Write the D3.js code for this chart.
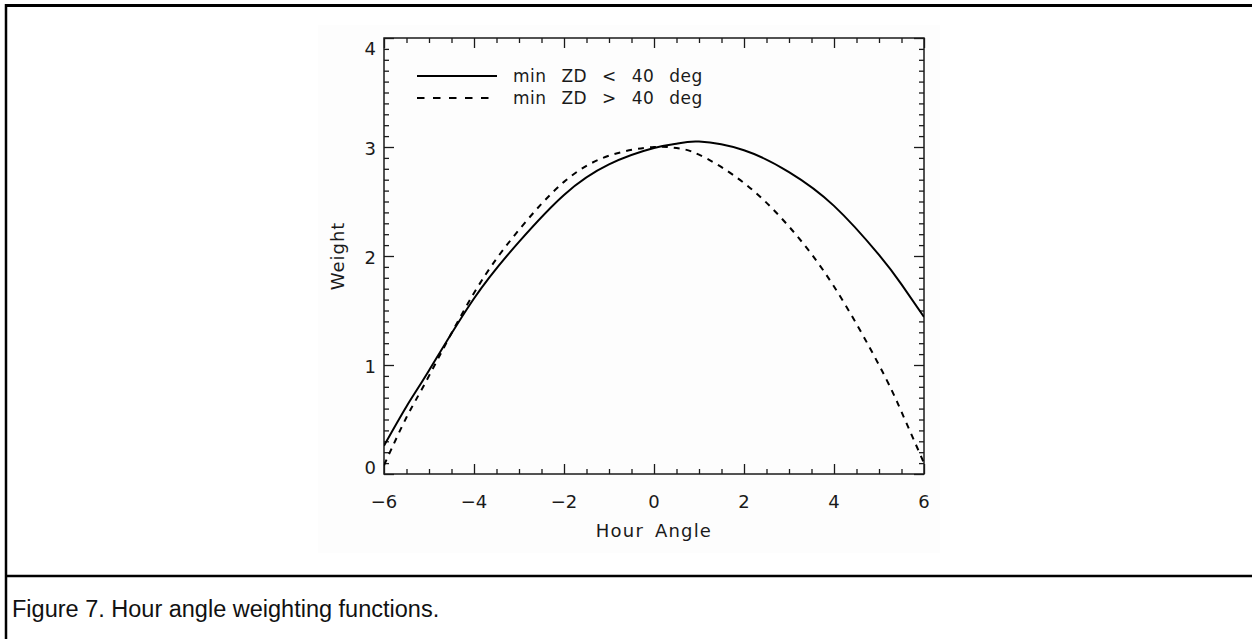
<!DOCTYPE html>
<html><head><meta charset="utf-8">
<script src="https://cdn.jsdelivr.net/npm/d3@7"></script>
<style>body{margin:0;background:#fff;overflow:hidden} svg{display:block}</style>
</head><body>
<svg id="c" width="1252" height="639"></svg>
<script>
// ---- data ----
const hourAngle  = [-6, -5.5, -5, -4, -3, -2, -1, 0, 0.5, 1, 2, 3, 4, 5, 5.5, 6];
const weightLowZD  = [0.26, 0.62, 0.95, 1.61, 2.13, 2.56, 2.84, 2.99, 3.03, 3.05, 2.97, 2.77, 2.46, 2.01, 1.74, 1.44]; // min ZD < 40 deg
const weightHighZD = [0.08, 0.52, 0.90, 1.66, 2.24, 2.68, 2.92, 3.00, 2.99, 2.93, 2.67, 2.27, 1.72, 1.00, 0.57, 0.10]; // min ZD > 40 deg
const xMajorTicks = [-6, -4, -2, 0, 2, 4, 6];
const yMajorTicks = [0, 1, 2, 3, 4];
const seriesLabels = ["min ZD < 40 deg", "min ZD > 40 deg"];
const xTitle = "Hour Angle";
const yTitle = "Weight";
const captionText = "Figure 7. Hour angle weighting functions.";

// ---- layout ----
const W = 1252, H = 639;
const plot = {left: 384, right: 924, top: 38, bottom: 474};
const svg = d3.select("#c");
const ink = "#1a1a1a";
const tickFont = "DejaVu Sans";

// frame
svg.append("rect").attr("x", 318).attr("y", 25).attr("width", 622).attr("height", 528).attr("fill", "#fdfdfd");
svg.append("line").attr("x1", 6).attr("x2", W + 5).attr("y1", 5.5).attr("y2", 5.5).attr("stroke", "#000").attr("stroke-width", 3);
svg.append("line").attr("x1", 6).attr("x2", 6).attr("y1", 4).attr("y2", H + 5).attr("stroke", "#000").attr("stroke-width", 2.5);
svg.append("line").attr("x1", 6).attr("x2", W + 5).attr("y1", 576).attr("y2", 576).attr("stroke", "#000").attr("stroke-width", 2.5);

// scales
const x = d3.scaleLinear().domain([-6, 6]).range([plot.left, plot.right]);
const y = d3.scaleLinear().domain([0, 4]).range([plot.bottom, plot.top]);
const xMinor = d3.range(-6, 6.001, 0.5).filter(v => Math.abs(v / 2 - Math.round(v / 2)) > 1e-6);
const yMinor = d3.range(0, 4.001, 0.1).filter(v => Math.abs(v - Math.round(v)) > 1e-6);

function styleAxis(g) {
  g.select(".domain").remove();
  g.selectAll("line").attr("stroke", ink).attr("stroke-width", 1.3);
  g.selectAll("text").remove();
}
const majorLen = 10, minorLen = 5;
// bottom
svg.append("g").attr("transform", `translate(0,${plot.bottom})`).call(d3.axisBottom(x).tickValues(xMajorTicks).tickSize(-majorLen)).call(styleAxis);
svg.append("g").attr("transform", `translate(0,${plot.bottom})`).call(d3.axisBottom(x).tickValues(xMinor).tickSize(-minorLen)).call(styleAxis);
// top
svg.append("g").attr("transform", `translate(0,${plot.top})`).call(d3.axisTop(x).tickValues(xMajorTicks).tickSize(-majorLen)).call(styleAxis);
svg.append("g").attr("transform", `translate(0,${plot.top})`).call(d3.axisTop(x).tickValues(xMinor).tickSize(-minorLen)).call(styleAxis);
// left
svg.append("g").attr("transform", `translate(${plot.left},0)`).call(d3.axisLeft(y).tickValues(yMajorTicks).tickSize(-majorLen)).call(styleAxis);
svg.append("g").attr("transform", `translate(${plot.left},0)`).call(d3.axisLeft(y).tickValues(yMinor).tickSize(-minorLen)).call(styleAxis);
// right
svg.append("g").attr("transform", `translate(${plot.right},0)`).call(d3.axisRight(y).tickValues(yMajorTicks).tickSize(-majorLen)).call(styleAxis);
svg.append("g").attr("transform", `translate(${plot.right},0)`).call(d3.axisRight(y).tickValues(yMinor).tickSize(-minorLen)).call(styleAxis);

// box
svg.append("rect").attr("x", plot.left).attr("y", plot.top).attr("width", plot.right - plot.left).attr("height", plot.bottom - plot.top)
  .attr("fill", "none").attr("stroke", ink).attr("stroke-width", 1.5);

// tick labels
const fmt = v => (v < 0 ? "\u2212" : "") + Math.abs(v);
svg.append("g").selectAll("text").data(xMajorTicks).join("text")
  .attr("x", d => x(d)).attr("y", plot.bottom + 34).attr("text-anchor", "middle")
  .attr("font-family", tickFont).attr("font-size", 18).attr("fill", ink).text(fmt);
svg.append("g").selectAll("text").data(yMajorTicks).join("text")
  .attr("x", plot.left - 8)
  .attr("y", d => Math.min(plot.bottom - 6, Math.max(plot.top + 10.5, y(d) + 2)))
  .attr("dy", "0.36em").attr("text-anchor", "end")
  .attr("font-family", tickFont).attr("font-size", 18).attr("fill", ink).text(fmt);

// axis titles
svg.append("text").attr("x", (plot.left + plot.right) / 2).attr("y", plot.bottom + 63).attr("text-anchor", "middle")
  .attr("font-family", tickFont).attr("font-size", 18).attr("letter-spacing", 1.2).attr("word-spacing", 4)
  .attr("fill", ink).text(xTitle);
svg.append("text").attr("transform", `translate(${plot.left - 40},${(plot.top + plot.bottom) / 2}) rotate(-90)`)
  .attr("text-anchor", "middle").attr("font-family", tickFont).attr("font-size", 18).attr("letter-spacing", 1)
  .attr("fill", ink).text(yTitle);

// curves
svg.append("clipPath").attr("id", "pc").append("rect")
  .attr("x", plot.left).attr("y", plot.top).attr("width", plot.right - plot.left).attr("height", plot.bottom - plot.top);
const line = d3.line().x(d => x(d[0])).y(d => y(d[1])).curve(d3.curveNatural);
const series = [
  {vals: weightLowZD, dash: null},
  {vals: weightHighZD, dash: "6,6"}
];
series.forEach(s => {
  svg.append("path").attr("clip-path", "url(#pc)")
    .attr("d", line(hourAngle.map((h, i) => [h, s.vals[i]])))
    .attr("fill", "none").attr("stroke", "#000").attr("stroke-width", 2)
    .attr("stroke-dasharray", s.dash);
});

// legend
const lg = svg.append("g");
seriesLabels.forEach((lab, i) => {
  const ly = 76 + i * 22;
  lg.append("line").attr("x1", 417).attr("x2", 497).attr("y1", ly).attr("y2", ly)
    .attr("stroke", "#000").attr("stroke-width", 2).attr("stroke-dasharray", series[i].dash ? "7.5,8.5" : null);
  lg.append("text").attr("x", 513).attr("y", ly + 6).attr("font-family", tickFont).attr("font-size", 17)
    .attr("letter-spacing", 0.5).attr("word-spacing", 9).attr("fill", ink).text(lab);
});

// caption
svg.append("text").attr("x", 12).attr("y", 617).attr("font-family", "Liberation Sans, Arial, sans-serif")
  .attr("font-size", 23.5).attr("fill", "#111").text(captionText);
</script>
</body></html>
